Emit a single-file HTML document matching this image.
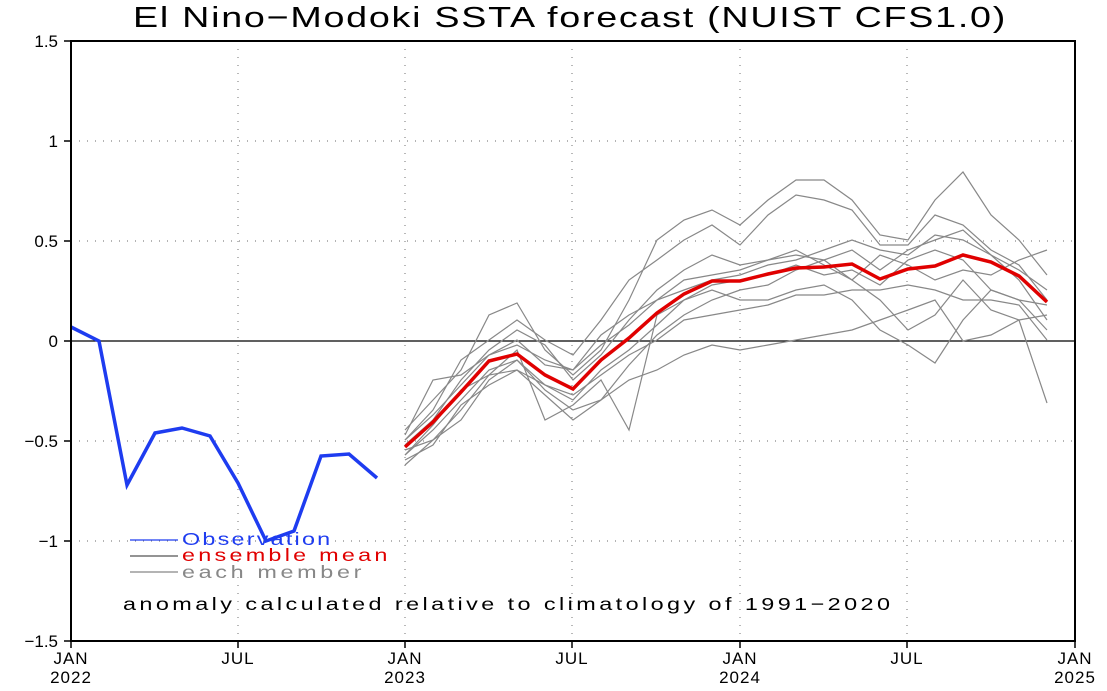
<!DOCTYPE html>
<html><head><style>
body{margin:0;background:#fff;}
svg text{font-family:"Liberation Sans",sans-serif;}
</style></head><body>
<svg width="1107" height="686" xmlns="http://www.w3.org/2000/svg">
<rect width="1107" height="686" fill="#fff"/>
<text transform="translate(133,27) scale(1.3,1)" x="0" y="0" font-size="29" textLength="671" lengthAdjust="spacing">El Nino−Modoki SSTA forecast (NUIST CFS1.0)</text>
<g stroke="#888" stroke-width="1.2" stroke-dasharray="1,7">
<line x1="71" y1="141" x2="1075" y2="141"/><line x1="71" y1="241" x2="1075" y2="241"/>
<line x1="71" y1="441" x2="1075" y2="441"/><line x1="71" y1="541" x2="1075" y2="541"/>
<line x1="238" y1="41" x2="238" y2="641"/><line x1="405" y1="41" x2="405" y2="641"/>
<line x1="572" y1="41" x2="572" y2="641"/><line x1="740" y1="41" x2="740" y2="641"/>
<line x1="907" y1="41" x2="907" y2="641"/>
</g>
<line x1="71" y1="341" x2="1075" y2="341" stroke="#000" stroke-width="1.2"/>
<g fill="none" stroke="#888" stroke-width="1.2">
<polyline points="405,430 433,400 461,370 489,315 517,303 545,350 573,375 601,350 629,300 657,240 684,220 712,210 740,225 768,200 796,180 824,180 852,200 880,235 908,240 935,200 963,172 991,215 1019,240 1047,275"/>
<polyline points="405,440 433,410 461,360 489,340 517,320 545,340 573,355 601,320 629,280 657,260 684,240 712,225 740,245 768,215 796,195 824,200 852,210 880,245 908,245 935,215 963,225 991,250 1019,265 1047,300"/>
<polyline points="405,445 433,420 461,380 489,350 517,330 545,345 573,380 601,355 629,320 657,290 684,270 712,255 740,265 768,260 796,250 824,265 852,280 880,300 908,330 935,315 963,280 991,310 1019,320 1047,403"/>
<polyline points="405,465 433,440 461,420 489,380 517,360 545,390 573,410 601,400 629,380 657,370 684,355 712,345 740,350 768,345 796,340 824,335 852,330 880,320 908,310 935,300 963,341 991,335 1019,320 1047,315"/>
<polyline points="405,455 433,425 461,390 489,375 517,350 545,420 573,405 601,380 629,430 657,315 684,300 712,290 740,300 768,300 796,290 824,285 852,300 880,330 908,345 935,363 963,320 991,290 1019,300 1047,305"/>
<polyline points="405,450 433,440 461,410 489,375 517,370 545,395 573,420 601,400 629,365 657,335 684,315 712,300 740,290 768,285 796,270 824,260 852,250 880,270 908,250 935,240 963,230 991,255 1019,280 1047,320"/>
<polyline points="405,435 433,380 461,375 489,355 517,340 545,365 573,370 601,335 629,315 657,300 684,280 712,275 740,270 768,260 796,255 824,260 852,280 880,255 908,265 935,280 963,270 991,275 1019,260 1047,250"/>
<polyline points="405,455 433,430 461,400 489,370 517,360 545,385 573,400 601,370 629,350 657,325 684,300 712,285 740,280 768,275 796,265 824,275 852,270 880,285 908,260 935,250 963,260 991,290 1019,300 1047,330"/>
<polyline points="405,440 433,415 461,385 489,355 517,345 545,360 573,370 601,345 629,325 657,300 684,290 712,280 740,275 768,265 796,260 824,250 852,240 880,250 908,255 935,235 963,240 991,255 1019,270 1047,290"/>
<polyline points="405,460 433,445 461,405 489,385 517,370 545,385 573,395 601,375 629,355 657,340 684,320 712,315 740,310 768,305 796,295 824,295 852,290 880,290 908,285 935,290 963,300 991,300 1019,305 1047,340"/>
</g>
<polyline fill="none" stroke="#e00000" stroke-width="3.5" points="405,447 433,422 461,392 489,361 517,354 545,375 573,389 601,360 629,338 657,313 684,294 712,281 740,281 768,274 796,268 824,267 852,264 880,279 908,269 935,266 963,255 991,262 1019,276 1047,302"/>
<polyline fill="none" stroke="#1e3cf0" stroke-width="3.5" points="71,327 99,341 127,485 155,433 182,428 210,436 238,483 266,541 294,531 321,456 349,454 377,478"/>
<rect x="71" y="41" width="1004" height="600" fill="none" stroke="#000" stroke-width="2"/>
<g stroke="#000" stroke-width="1.5">
<line x1="64" y1="41" x2="71" y2="41"/><line x1="64" y1="141" x2="71" y2="141"/><line x1="64" y1="241" x2="71" y2="241"/><line x1="64" y1="341" x2="71" y2="341"/><line x1="64" y1="441" x2="71" y2="441"/><line x1="64" y1="541" x2="71" y2="541"/><line x1="64" y1="641" x2="71" y2="641"/>
<line x1="71" y1="641" x2="71" y2="648"/><line x1="238" y1="641" x2="238" y2="648"/><line x1="405" y1="641" x2="405" y2="648"/><line x1="572" y1="641" x2="572" y2="648"/><line x1="740" y1="641" x2="740" y2="648"/><line x1="907" y1="641" x2="907" y2="648"/><line x1="1075" y1="641" x2="1075" y2="648"/>
</g>
<g font-size="17" text-anchor="end">
<text x="58" y="47">1.5</text><text x="58" y="147">1</text><text x="58" y="247">0.5</text><text x="58" y="347">0</text><text x="58" y="447">−0.5</text><text x="58" y="547">−1</text><text x="58" y="647">−1.5</text>
</g>
<g font-size="17" text-anchor="middle" letter-spacing="1">
<text x="71" y="664">JAN</text><text x="71" y="683">2022</text>
<text x="238" y="664">JUL</text>
<text x="405" y="664">JAN</text><text x="405" y="683">2023</text>
<text x="572" y="664">JUL</text>
<text x="740" y="664">JAN</text><text x="740" y="683">2024</text>
<text x="907" y="664">JUL</text>
<text x="1075" y="664">JAN</text><text x="1075" y="683">2025</text>
</g>
<line x1="130" y1="540" x2="178" y2="540" stroke="#1e3cf0" stroke-width="1.2"/>
<line x1="130" y1="556" x2="178" y2="556" stroke="#555" stroke-width="1.2"/>
<line x1="130" y1="572" x2="178" y2="572" stroke="#888" stroke-width="1.2"/>
<g font-size="18">
<text transform="translate(182,545) scale(1.3,1)" fill="#1e3cf0" textLength="114" lengthAdjust="spacing">Observation</text>
<text transform="translate(182,561) scale(1.3,1)" fill="#e00000" textLength="158" lengthAdjust="spacing">ensemble mean</text>
<text transform="translate(182,578) scale(1.3,1)" fill="#888" textLength="138" lengthAdjust="spacing">each member</text>
<text transform="translate(123,610) scale(1.3,1)" fill="#000" textLength="590" lengthAdjust="spacing">anomaly calculated relative to climatology of 1991−2020</text>
</g>
</svg>
</body></html>
